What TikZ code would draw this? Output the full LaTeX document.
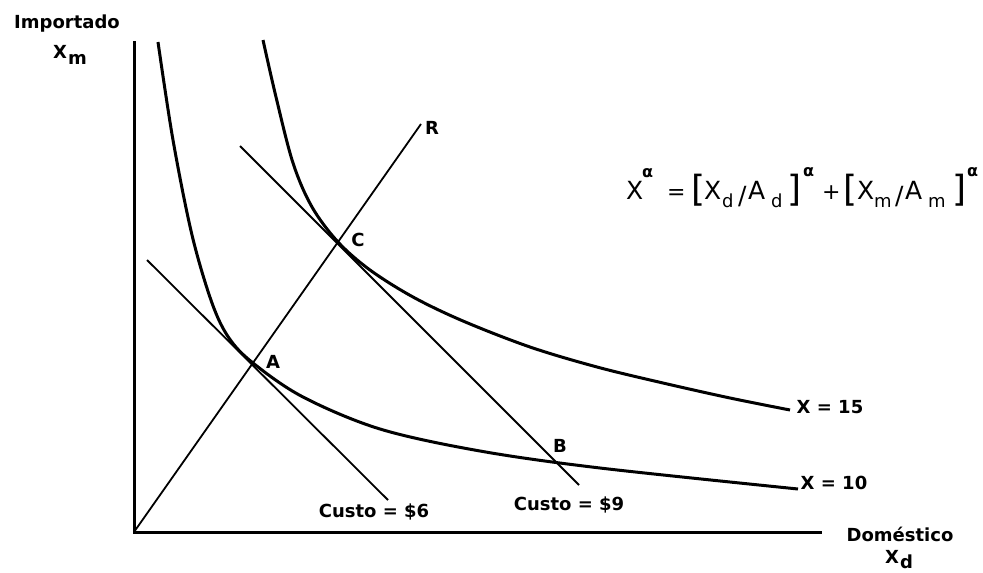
\documentclass[tikz,border=0pt]{standalone}
\usepackage{fontspec}
\setmainfont{DejaVu Sans}
\begin{document}
\begin{tikzpicture}[x=1pt,y=-1pt,
  lbl/.style={font=\fontsize{18}{18}\selectfont\bfseries, inner sep=0},
  ptlbl/.style={font=\fontsize{18}{18}\selectfont\bfseries, inner sep=0},
  eqt/.style={font=\fontsize{25}{25}\selectfont, inner sep=0, anchor=base west},
  eqop/.style={font=\fontsize{22}{22}\selectfont, inner sep=0, anchor=base west},
  eqsub/.style={font=\fontsize{18}{18}\selectfont, inner sep=0, anchor=base west},
  eqal/.style={font=\fontsize{16}{16}\selectfont\bfseries, inner sep=0, anchor=base west},
  eqbr/.style={font=\fontsize{36}{36}\selectfont, inner sep=0, anchor=west},
  axisline/.style={line width=3pt, line join=miter},
  costline/.style={line width=1.8pt},
  isoq/.style={line width=3pt, smooth, tension=0.55}]
\useasboundingbox (0,0) rectangle (983,573);
% axes
\coordinate (O) at (134,532);
\coordinate (Ytop) at (134,41);
\coordinate (Xend) at (822,532);
\draw[axisline] (Ytop) -- (O) -- (Xend);
\node[lbl] (imp) at (67,24) {Importado};
\node[lbl, anchor=base west] (xm) at (53,58) {X\kern1pt\raisebox{-6pt}{m}};
\node[lbl] (dom) at (900,534) {Doméstico};
\node[lbl, anchor=base west] (xd) at (885,563) {X\kern1pt\raisebox{-5pt}{d}};
% ray R
\coordinate (Rend) at (421,124);
\draw[costline] (O) -- (Rend);
\node[ptlbl] (R) at (432,128) {R};
% cost lines
\coordinate (c6a) at (147,260);
\coordinate (c6b) at (388,500);
\draw[costline] (c6a) -- (c6b);
\coordinate (c9a) at (240,146);
\coordinate (c9b) at (579,485);
\draw[costline] (c9a) -- (c9b);
% isoquants
\draw[isoq] plot coordinates {(158,42) (173,140) (192,235) (212,303) (229,338) (253,363) (303,397) (380,429) (480,451) (600,468) (798,489)};
\draw[isoq] plot coordinates {(263,40) (276,97) (293,163) (312,207) (338,242) (370,270) (413,297) (463,321) (530,347) (597,367) (663,383) (730,398) (790,410)};
% point labels
\node[ptlbl] (A) at (273,362) {A};
\node[ptlbl] (B) at (560,446) {B};
\node[ptlbl] (C) at (358,240) {C};
\node[lbl] (x15) at (830,407) {X = 15};
\node[lbl] (x10) at (834,483) {X = 10};
\node[lbl] (c6) at (374,512) {Custo = \$6};
\node[lbl] (c9) at (569,505) {Custo = \$9};
% equation
\node[eqt] (e1) at (626,199) {X};
\node[eqal] (e2) at (642,177) {α};
\node[eqop] (e3) at (667,199) {=};
\node[eqbr] (e4) at (691,190) {[};
\node[eqt] (e5) at (704,199) {X};
\node[eqsub] (e6) at (722,207) {d};
\node[eqt] (e7) at (738,204) {/};
\node[eqt] (e8) at (748,199) {A};
\node[eqsub] (e9) at (771,207) {d};
\node[eqbr] (e10) at (787,190) {]};
\node[eqal] (e11) at (803,176) {α};
\node[eqop] (e12) at (822,199) {+};
\node[eqbr] (e13) at (843,190) {[};
\node[eqt] (e14) at (857,199) {X};
\node[eqsub] (e15) at (874,207) {m};
\node[eqt] (e16) at (895,204) {/};
\node[eqt] (e17) at (905,199) {A};
\node[eqsub] (e18) at (928,207) {m};
\node[eqbr] (e19) at (952,190) {]};
\node[eqal] (e20) at (967,176) {α};
\end{tikzpicture}
\end{document}
